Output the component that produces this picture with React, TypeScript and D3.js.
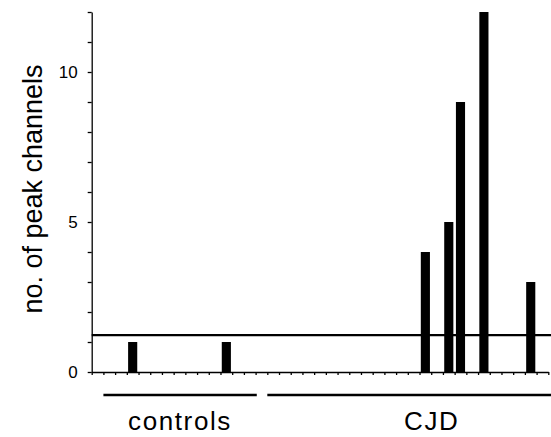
import React, { useEffect, useRef } from "react";
import * as d3 from "d3";

// one slot per subject, 39 slots along the x axis
const slots = d3.range(39);
const peakChannels = [
  0, 0, 0, 1, 0, 0, 0, 0, 0, 0, 0, 1, 0, 0, 0, 0, 0, 0, 0, 0,
  0, 0, 0, 0, 0, 0, 0, 0, 4, 0, 5, 9, 0, 12, 0, 0, 0, 3, 0,
];
const threshold = 1.23;
const yMajorTicks = [0, 5, 10];
const groupNames = ["controls", "CJD"];
const groupStart = [1, 15];
const groupEnd = [14.1, 39.3];

export default function App() {
  const ref = useRef<SVGSVGElement>(null);
  const width = 551;
  const height = 437;

  useEffect(() => {
    const margin = { top: 12, right: 2.7, bottom: 65, left: 91.7 };
    const svg = d3.select(ref.current);
    svg.selectAll("*").remove();

    const x = d3
      .scaleBand<number>()
      .domain(slots)
      .range([margin.left, width - margin.right])
      .paddingInner(0.22)
      .paddingOuter(0.11);

    const xLin = d3
      .scaleLinear()
      .domain([0, slots.length])
      .range([margin.left, width - margin.right]);

    const y = d3
      .scaleLinear()
      .domain([0, 12])
      .range([height - margin.bottom, margin.top]);

    const font = "Arial, 'Liberation Sans', Helvetica, sans-serif";

    // bars
    svg
      .selectAll(".bar")
      .data(slots.filter((i) => peakChannels[i] > 0))
      .join("rect")
      .attr("class", "bar")
      .attr("x", (i) => x(i)!)
      .attr("y", (i) => y(peakChannels[i]))
      .attr("width", x.bandwidth())
      .attr("height", (i) => y(0) - y(peakChannels[i]))
      .attr("fill", "#000");

    // threshold line
    svg
      .append("line")
      .attr("x1", margin.left)
      .attr("x2", width)
      .attr("y1", y(threshold))
      .attr("y2", y(threshold))
      .attr("stroke", "#000")
      .attr("stroke-width", 2.3);

    // x axis: small ticks at slot boundaries
    const xAxis = svg
      .append("g")
      .attr("transform", `translate(0,${y(0)})`)
      .call(
        d3
          .axisBottom(xLin)
          .tickValues(d3.range(slots.length + 1))
          .tickSize(3)
          .tickSizeOuter(0)
          .tickFormat(() => "")
      );
    xAxis.selectAll("path,line").attr("stroke", "#000").attr("stroke-width", 1.3);

    // y axis: minor ticks every unit, labels at 0/5/10
    const yAxis = svg
      .append("g")
      .attr("transform", `translate(${margin.left},0)`)
      .call(
        d3
          .axisLeft(y)
          .tickValues(d3.range(0, 13))
          .tickSize(4)
          .tickSizeOuter(0)
          .tickFormat((d) => (yMajorTicks.includes(+d) ? String(d) : ""))
      );
    yAxis.selectAll("path,line").attr("stroke", "#000").attr("stroke-width", 1.3);
    yAxis
      .selectAll("text")
      .attr("x", -14)
      .attr("font-size", "17px")
      .attr("font-family", font)
      .attr("fill", "#000");

    // y label
    svg
      .append("text")
      .attr("transform", `translate(42, ${y(6.1)}) rotate(-90)`)
      .attr("text-anchor", "middle")
      .attr("font-size", "27px")
      .attr("font-family", font)
      .attr("fill", "#000")
      .text("no. of peak channels");

    // group brackets + names
    groupNames.forEach((name, i) => {
      svg
        .append("line")
        .attr("x1", xLin(groupStart[i]))
        .attr("x2", xLin(groupEnd[i]))
        .attr("y1", 395)
        .attr("y2", 395)
        .attr("stroke", "#000")
        .attr("stroke-width", 2.5);
      svg
        .append("text")
        .attr("x", i === 0 ? 180 : 431.7)
        .attr("y", 430)
        .attr("text-anchor", "middle")
        .attr("font-size", "26px")
        .attr("letter-spacing", "1.6px")
        .attr("font-family", font)
        .attr("fill", "#000")
        .text(name);
    });
  }, []);

  return (
    <svg
      ref={ref}
      width={width}
      height={height}
      style={{ position: "absolute", left: 0, top: 0, background: "#fff" }}
    />
  );
}
